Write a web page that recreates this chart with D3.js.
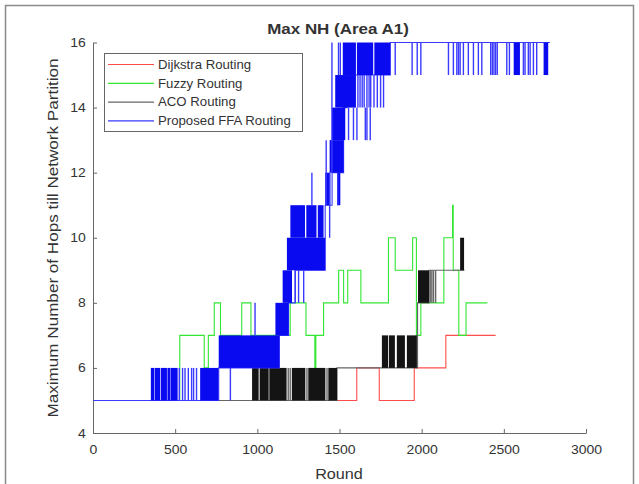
<!DOCTYPE html>
<html>
<head>
<meta charset="utf-8">
<script src="https://cdn.jsdelivr.net/npm/d3@7"></script>
<style>
  body { margin: 0; background: #fff; }
  #chart { width: 639px; height: 484px; }
  text { font-family: "Liberation Sans", Arial, sans-serif; fill: #333; }
</style>
</head>
<body>
<div id="chart"></div>
<script>
//Ejes
const xTicks = [0, 500, 1000, 1500, 2000, 2500, 3000];
const yTicks = [4, 6, 8, 10, 12, 14, 16];
const seriesNames = ['Dijkstra Routing', 'Fuzzy Routing', 'ACO Routing', 'Proposed FFA Routing'];

//Datos: [ronda, valor] (escalones)
const dijkstraSteps = [[0,5],[1605,6],[1742,5],[1955,6],[2147,7],[2450,7]];

const fuzzySteps = [[0,5],[528,7],[677,6],[702,7],[738,8],[776,7],[905,8],[961,7],[1200,8],[1296,7],[1350,6],[1356,7],
    [1403,8],[1495,9],[1525,8],[1550,9],[1630,8],[1798,10],[1839,9],[1945,10],[1968,7],[1995,8],[2135,10],
    [2188,11],[2192,9],[2226,7],[2270,8],[2400,8]];

const acoSteps = [[0,5],[1485,6],[1975,8],[2045,9],[2260,9]];
//Zonas de oscilacion densa: [desde, hasta, min, max]
const acoBands = [[968,1008,5,6],[1014,1069,5,6],[1073,1178,5,6],[1210,1292,5,6],[1310,1414,5,6],[1432,1485,5,6],
    [1758,1796,6,7],[1801,1837,6,7],[1849,1898,6,7],[1910,1971,6,7],[1978,2045,8,9],[2234,2258,9,10]];
//Saltos sueltos: [ronda, min, max]
const acoSpikes = [[1188,5,6],[1200,5,6],[1302,5,6],[1424,5,6],[2052,8,9],[2062,8,9],[2072,8,9],[2085,8,9]];

const ffaSteps = [[0,5],[765,6],[1134,7],[1190,8],[1230,9],[1413,11],[1455,12],[1525,14],[1545,15],[1809,16],[2780,16]];
const ffaBands = [[352,372,5,6],[375,408,5,6],[412,450,5,6],[453,470,5,6],[472,515,5,6],[652,763,5,6],
    [765,1134,6,7],[1110,1190,7,8],[1154,1211,8,9],[1180,1413,9,10],
    [1201,1290,10,11],[1298,1360,10,11],[1368,1403,10,11],
    [1413,1444,11,12],[1485,1505,11,12],[1440,1525,12,13],[1454,1535,13,14],[1474,1600,14,15],
    [1520,1600,15,16],[1606,1705,15,16],[1712,1809,15,16],[2560,2598,15,16],[2742,2770,15,16]];
const ffaSpikes = [[525,5,6],[545,5,6],[560,5,6],[580,5,6],[600,5,6],[612,5,6],[630,5,6],
    [836,5,6],[986,7,8],[1231,8,9],[1251,8,9],[1282,8,9],
    [1332,11,12],[1419,11,13],[1440,10,12],[1454,12,16],[1489,11,12],
    [1494,15,16],[1505,15,16],
    [1555,13,14],[1585,13,14],[1606,13,14],[1657,13,14],[1667,13,14],[1687,13,14],
    [1612,14,15],[1625,14,15],[1638,14,15],[1650,14,15],[1667,14,15],[1680,14,15],[1690,14,15],
    [1710,14,15],[1730,14,15],[1750,14,15],[1768,14,15],
    [1839,15,16],[1942,15,16],[1973,15,16],[1995,15,16],[2163,15,16],[2193,15,16],[2214,15,16],
    [2224,15,16],[2234,15,16],[2254,15,16],[2284,15,16],[2315,15,16],[2345,15,16],[2366,15,16],
    [2420,15,16],[2430,15,16],[2440,15,16],[2450,15,16],[2460,15,16],
    [2518,15,16],[2534,15,16],[2619,15,16],[2629,15,16],[2649,15,16],[2660,15,16],[2680,15,16],[2700,15,16]];

//Colores
const COLOR_DIJKSTRA = '#ff4d4d',
    COLOR_FUZZY = '#33e633',
    COLOR_ACO_LINE = '#666666',
    COLOR_ACO_BAND = '#141414',
    COLOR_FFA_LINE = '#3a3aff',
    COLOR_FFA_BAND = '#0a0af0',
    COLOR_AXIS = '#666666';

let series = [
    {name: seriesNames[0], steps: dijkstraSteps, bands: [], spikes: [], line: COLOR_DIJKSTRA, band: COLOR_DIJKSTRA},
    {name: seriesNames[1], steps: fuzzySteps, bands: [], spikes: [], line: COLOR_FUZZY, band: COLOR_FUZZY},
    {name: seriesNames[2], steps: acoSteps, bands: acoBands, spikes: acoSpikes, line: COLOR_ACO_LINE, band: COLOR_ACO_BAND},
    {name: seriesNames[3], steps: ffaSteps, bands: ffaBands, spikes: ffaSpikes, line: COLOR_FFA_LINE, band: COLOR_FFA_BAND}
];

let margin = {top: 42.5, right: 53, bottom: 51, left: 93},
    width = 639 - margin.left - margin.right,
    height = 484 - margin.top - margin.bottom;

let root = d3.select("#chart")
    .append("svg")
        .attr("width", 639)
        .attr("height", 484);

//Marco de la figura
root.append("rect")
    .attr("x", 5.5).attr("y", 5.5)
    .attr("width", 628).attr("height", 490)
    .attr("fill", "none")
    .attr("stroke", "#8a8a8a")
    .attr("stroke-width", 1.5);

let svg = root.append("g")
    .attr("transform", "translate(" + margin.left + "," + margin.top + ")");

let x = d3.scaleLinear().domain([0, 3000]).range([0, width]);
let y = d3.scaleLinear().domain([4, 16]).range([height, 0]);

function styleAxis(g, stretch) {
    g.attr("font-size", null).attr("font-family", null);
    g.select(".domain").attr("stroke", COLOR_AXIS);
    g.selectAll(".tick line").attr("stroke", COLOR_AXIS);
    g.selectAll(".tick text")
        .style("font-size", "12.5px")
        .attr("fill", "#333")
        .attr("transform", "scale(" + stretch + ",1)");
}

svg.append("g")
    .attr("transform", "translate(0," + height + ")")
    .call(d3.axisBottom(x).tickValues(xTicks).tickFormat(d3.format("d")).tickSizeInner(-4).tickSizeOuter(0).tickPadding(12))
    .call(function(g) { styleAxis(g, 1.12); });

svg.append("g")
    .call(d3.axisLeft(y).tickValues(yTicks).tickSizeInner(-4).tickSizeOuter(0).tickPadding(6.5))
    .call(function(g) { styleAxis(g, 1.12); });

//Series
let stepLine = d3.line()
    .curve(d3.curveStepAfter)
    .x(function(d) { return x(d[0]); })
    .y(function(d) { return y(d[1]); });

series.forEach(function(s) {
    let g = svg.append("g").attr("class", "serie");

    g.append("path")
        .datum(s.steps)
        .attr("d", stepLine)
        .attr("fill", "none")
        .attr("stroke", s.line)
        .attr("stroke-width", 1.1);

    g.selectAll(".band")
        .data(s.bands)
        .enter()
        .append("rect")
        .attr("x", function(d) { return x(d[0]); })
        .attr("width", function(d) { return x(d[1]) - x(d[0]); })
        .attr("y", function(d) { return y(d[3]); })
        .attr("height", function(d) { return y(d[2]) - y(d[3]); })
        .attr("fill", s.band);

    g.selectAll(".spike")
        .data(s.spikes)
        .enter()
        .append("line")
        .attr("x1", function(d) { return x(d[0]); })
        .attr("x2", function(d) { return x(d[0]); })
        .attr("y1", function(d) { return y(d[1]); })
        .attr("y2", function(d) { return y(d[2]); })
        .attr("stroke", s.line)
        .attr("stroke-width", 1.4);
});

//Leyenda
let legend = root.append("g").attr("transform", "translate(104,53)");
legend.append("rect")
    .attr("x", 0.5).attr("y", 0.5)
    .attr("width", 198).attr("height", 78)
    .attr("fill", "#fff")
    .attr("stroke", "#666")
    .attr("stroke-width", 1);

series.forEach(function(s, i) {
    let cy = 11.5 + i * 18.8;
    legend.append("line")
        .attr("x1", 4).attr("x2", 50)
        .attr("y1", cy).attr("y2", cy)
        .attr("stroke", s.line)
        .attr("stroke-width", 1.2);
    legend.append("text")
        .attr("transform", "translate(54," + (cy + 4.3) + ") scale(1.1,1)")
        .style("font-size", "12px")
        .text(s.name);
});

//Titulos
root.append("text")
    .attr("transform", "translate(338,34) scale(1.17,1)")
    .attr("text-anchor", "middle")
    .style("font-size", "14.5px")
    .style("font-weight", "700")
    .attr("fill", "#222")
    .text("Max NH (Area A1)");

root.append("text")
    .attr("transform", "translate(339,479) scale(1.08,1)")
    .attr("text-anchor", "middle")
    .style("font-size", "15px")
    .text("Round");

root.append("text")
    .attr("transform", "translate(58,238) rotate(-90) scale(1.14,1)")
    .attr("text-anchor", "middle")
    .style("font-size", "15px")
    .text("Maximum Number of Hops till Network Partition");
</script>
</body>
</html>
